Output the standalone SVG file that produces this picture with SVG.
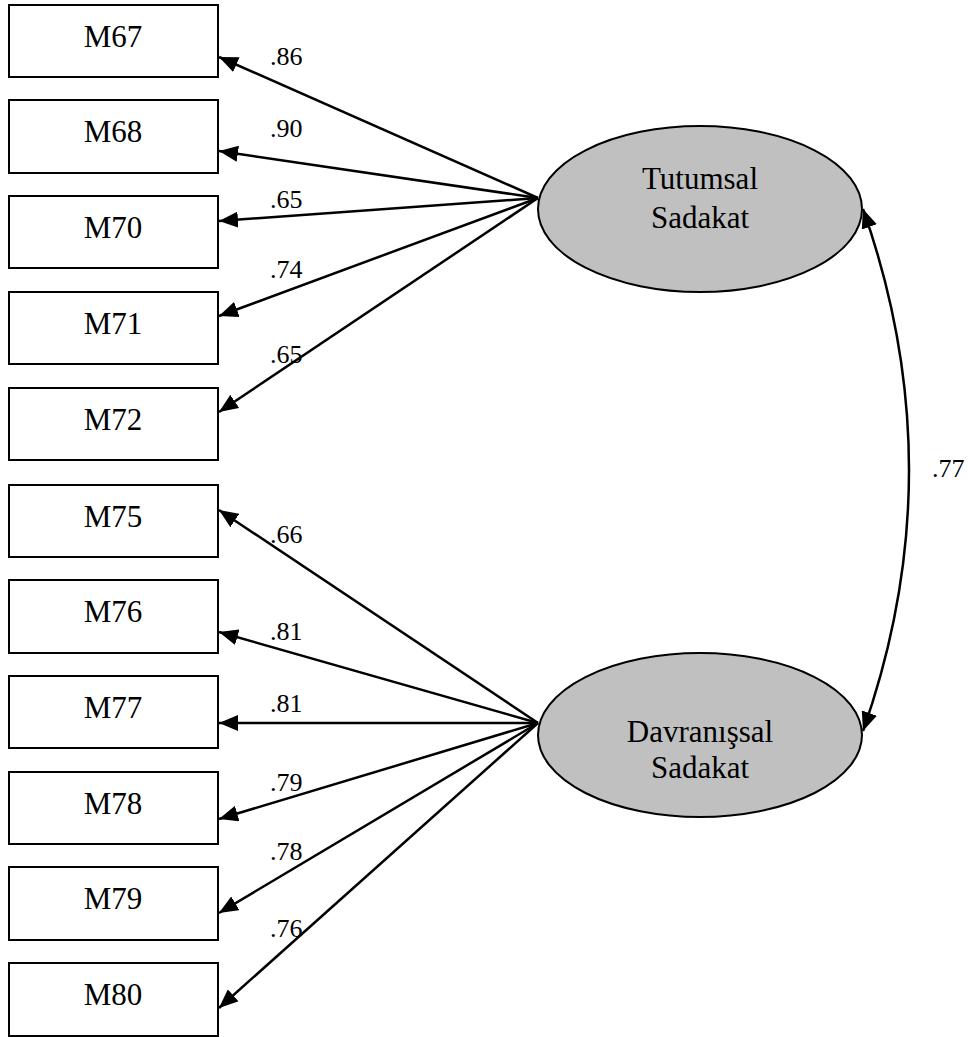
<svg xmlns="http://www.w3.org/2000/svg" width="968" height="1037" viewBox="0 0 968 1037">
  <style>
    .box { fill: #ffffff; stroke: #000000; stroke-width: 2; }
    .latent { fill: #c0c0c0; stroke: #000000; stroke-width: 2; }
    .lbl { font-family: "Liberation Serif", "Times New Roman", serif; font-size: 31px; fill: #000000; text-anchor: middle; }
    .coef { font-family: "Liberation Serif", "Times New Roman", serif; font-size: 26px; fill: #000000; }
    .edge { fill: none; stroke: #000000; stroke-width: 2.5; }
  </style>
  <defs>
    <marker id="arrow" markerUnits="userSpaceOnUse" markerWidth="20" markerHeight="16" refX="19" refY="8" orient="auto">
      <path d="M0,0 L19,8 L0,16 Z" fill="#000000"/>
    </marker>
    <marker id="arrowStart" markerUnits="userSpaceOnUse" markerWidth="20" markerHeight="16" refX="1" refY="8" orient="auto">
      <path d="M20,0 L1,8 L20,16 Z" fill="#000000"/>
    </marker>
  </defs>

  <rect width="968" height="1037" fill="#ffffff"/>

  <!-- indicator boxes -->
  <g id="M67"><rect class="box" x="9" y="5" width="209" height="72"/><text class="lbl" x="113" y="47">M67</text></g>
  <g id="M68"><rect class="box" x="9" y="100" width="209" height="73"/><text class="lbl" x="113" y="142">M68</text></g>
  <g id="M70"><rect class="box" x="9" y="196" width="209" height="72"/><text class="lbl" x="113" y="238">M70</text></g>
  <g id="M71"><rect class="box" x="9" y="292" width="209" height="72"/><text class="lbl" x="113" y="334">M71</text></g>
  <g id="M72"><rect class="box" x="9" y="388" width="209" height="72"/><text class="lbl" x="113" y="430">M72</text></g>
  <g id="M75"><rect class="box" x="9" y="485" width="209" height="72"/><text class="lbl" x="113" y="527">M75</text></g>
  <g id="M76"><rect class="box" x="9" y="580" width="209" height="73"/><text class="lbl" x="113" y="622">M76</text></g>
  <g id="M77"><rect class="box" x="9" y="676" width="209" height="72"/><text class="lbl" x="113" y="718">M77</text></g>
  <g id="M78"><rect class="box" x="9" y="772" width="209" height="72"/><text class="lbl" x="113" y="814">M78</text></g>
  <g id="M79"><rect class="box" x="9" y="867" width="209" height="73"/><text class="lbl" x="113" y="909">M79</text></g>
  <g id="M80"><rect class="box" x="9" y="963" width="209" height="73"/><text class="lbl" x="113" y="1005">M80</text></g>

  <!-- latent factors -->
  <g id="tutumsal">
    <ellipse class="latent" cx="700" cy="209" rx="162" ry="83"/>
    <text class="lbl" x="700" y="189">Tutumsal</text>
    <text class="lbl" x="700" y="228">Sadakat</text>
  </g>
  <g id="davranissal">
    <ellipse class="latent" cx="700" cy="735" rx="162" ry="82"/>
    <text class="lbl" x="700" y="742">Davranışsal</text>
    <text class="lbl" x="700" y="778">Sadakat</text>
  </g>

  <!-- loadings and correlation -->
  <g id="connectors">
    <line class="edge" x1="538" y1="198" x2="219" y2="57" marker-end="url(#arrow)"/>
    <line class="edge" x1="538" y1="198" x2="219" y2="151" marker-end="url(#arrow)"/>
    <line class="edge" x1="538" y1="198" x2="219" y2="221" marker-end="url(#arrow)"/>
    <line class="edge" x1="538" y1="198" x2="219" y2="316" marker-end="url(#arrow)"/>
    <line class="edge" x1="538" y1="198" x2="219" y2="412" marker-end="url(#arrow)"/>

    <line class="edge" x1="538" y1="723" x2="219" y2="510" marker-end="url(#arrow)"/>
    <line class="edge" x1="538" y1="723" x2="219" y2="632" marker-end="url(#arrow)"/>
    <line class="edge" x1="538" y1="723" x2="219" y2="723" marker-end="url(#arrow)"/>
    <line class="edge" x1="538" y1="723" x2="219" y2="819" marker-end="url(#arrow)"/>
    <line class="edge" x1="538" y1="723" x2="219" y2="913" marker-end="url(#arrow)"/>
    <line class="edge" x1="538" y1="723" x2="219" y2="1008" marker-end="url(#arrow)"/>

    <path class="edge" d="M863,209 Q955,470 863,731" marker-start="url(#arrowStart)" marker-end="url(#arrow)"/>
  </g>

  <g id="coefficients">
    <text class="coef" x="270" y="65">.86</text>
    <text class="coef" x="270" y="137">.90</text>
    <text class="coef" x="270" y="208">.65</text>
    <text class="coef" x="270" y="278">.74</text>
    <text class="coef" x="270" y="363">.65</text>
    <text class="coef" x="270" y="543">.66</text>
    <text class="coef" x="270" y="640">.81</text>
    <text class="coef" x="270" y="712">.81</text>
    <text class="coef" x="270" y="791">.79</text>
    <text class="coef" x="270" y="860">.78</text>
    <text class="coef" x="270" y="937">.76</text>
    <text class="coef" x="932" y="477">.77</text>
  </g>
</svg>
